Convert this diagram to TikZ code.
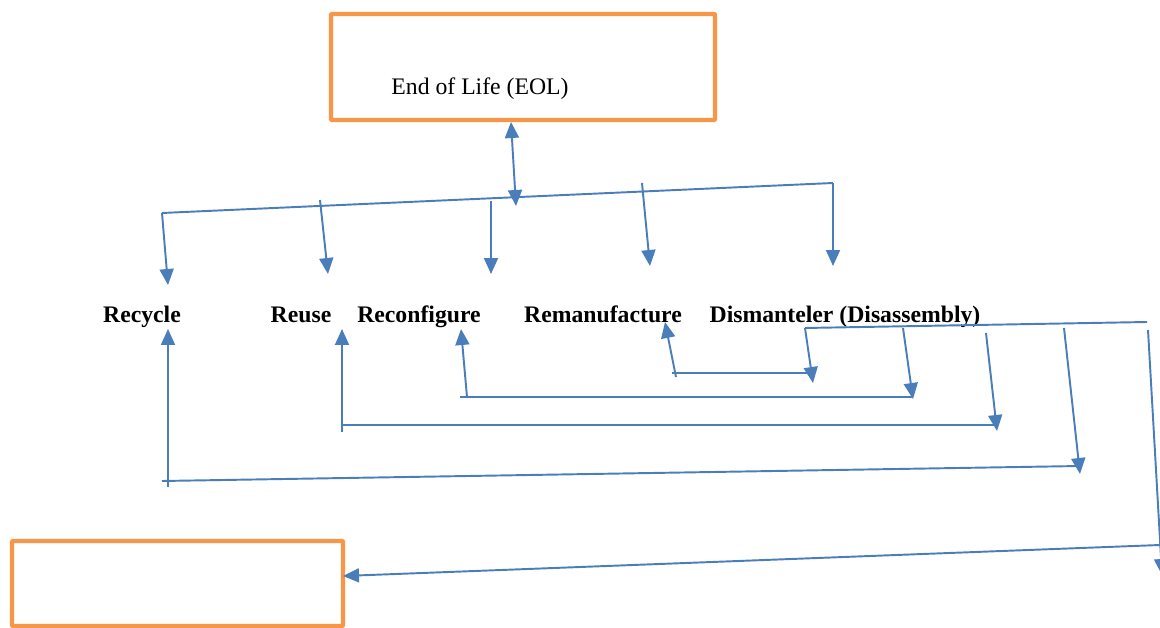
\documentclass[tikz,border=0pt]{standalone}
\usepackage{fontspec}
\setmainfont{Liberation Serif}
\usetikzlibrary{arrows.meta,positioning}
\definecolor{eolorange}{HTML}{F79646}
\definecolor{linkblue}{HTML}{4A7EBB}

\begin{document}
\begin{tikzpicture}[
  x=0.02cm, y=-0.02cm,
  box/.style={rectangle, draw=eolorange, line width=2.5pt, rounded corners=0.5pt,
              inner sep=0pt},
  lbl/.style={font=\fontsize{13.5}{16}\selectfont\bfseries, inner sep=0pt,
              anchor=base},
  link/.style={draw=linkblue, line width=1.1pt},
  arr/.style={link, -{Triangle[length=0.32cm, width=0.28cm]}},
  dbl/.style={link, {Triangle[length=0.32cm, width=0.28cm]}-{Triangle[length=0.32cm, width=0.28cm]}}
]
  \useasboundingbox (0,0) rectangle (1160,628);

  % boxes
  \node[box, minimum width=7.68cm, minimum height=2.12cm] (eol) at (523,67) {};
  \node[font=\fontsize{13.5}{16}\selectfont, inner sep=0pt] (eoltxt) at (480,89) {End of Life (EOL)};
  \node[box, minimum width=6.62cm, minimum height=1.7cm] (out) at (177.5,583.5) {};

  % options
  \node[lbl] (recycle) at (142,322) {Recycle};
  \node[lbl] (reuse)   at (301,322) {Reuse};
  \node[lbl] (reconf)  at (419,322) {Reconfigure};
  \node[lbl] (reman)   at (603,322) {Remanufacture};
  \node[lbl] (dism)    at (845,322) {Dismanteler (Disassembly)};

  % distribution bar
  \coordinate (eolfoot) at (511,122);
  \coordinate (hub)     at (516,206);
  \coordinate (barL)    at (162,213);
  \coordinate (barR)    at (833,183);
  \draw[dbl]  (eolfoot) -- (hub);
  \draw[link] (barL) -- (barR);

  \coordinate (d1s) at (162,213); \coordinate (d1e) at (168,285);
  \coordinate (d2s) at (320,200); \coordinate (d2e) at (328,274);
  \coordinate (d3s) at (491,201); \coordinate (d3e) at (491,274);
  \coordinate (d4s) at (642,183); \coordinate (d4e) at (650,266);
  \coordinate (d5s) at (833,183); \coordinate (d5e) at (833,266);
  \foreach \i in {1,...,5} {
    \draw[arr] (d\i s) -- (d\i e);
  }

  % disassembly returns
  \coordinate (dsL) at (805,328);
  \coordinate (dsR) at (1147,322);
  \draw[link] (dsL) -- (dsR);

  \coordinate (r1s) at (805,328);  \coordinate (r1e) at (813,383);
  \coordinate (r2s) at (903,328);  \coordinate (r2e) at (913,399);
  \coordinate (r3s) at (986,333);  \coordinate (r3e) at (997,431);
  \coordinate (r4s) at (1064,328); \coordinate (r4e) at (1080,474);
  \coordinate (r5s) at (1148,330); \coordinate (r5e) at (1162,575);
  \foreach \i in {1,...,5} {
    \draw[arr] (r\i s) -- (r\i e);
  }

  % back to each option
  \coordinate (h1L) at (672,373); \coordinate (h1R) at (812,373);
  \coordinate (h2L) at (460,397); \coordinate (h2R) at (913,397);
  \coordinate (h3L) at (342,425); \coordinate (h3R) at (997,425);
  \coordinate (h4L) at (162,481); \coordinate (h4R) at (1080,466);
  \foreach \i in {1,...,4} {
    \draw[link] (h\i L) -- (h\i R);
  }

  \coordinate (u1s) at (676,377); \coordinate (u1e) at (665,322);
  \coordinate (u2s) at (467,397); \coordinate (u2e) at (461,329);
  \coordinate (u3s) at (342,432); \coordinate (u3e) at (342,329);
  \coordinate (u4s) at (168,487); \coordinate (u4e) at (168,329);
  \foreach \i in {1,...,4} {
    \draw[arr] (u\i s) -- (u\i e);
  }

  % to the empty box
  \coordinate (outfrom) at (1160,545);
  \coordinate (outin)   at (343,576);
  \draw[arr] (outfrom) -- (outin);
\end{tikzpicture}
\end{document}
